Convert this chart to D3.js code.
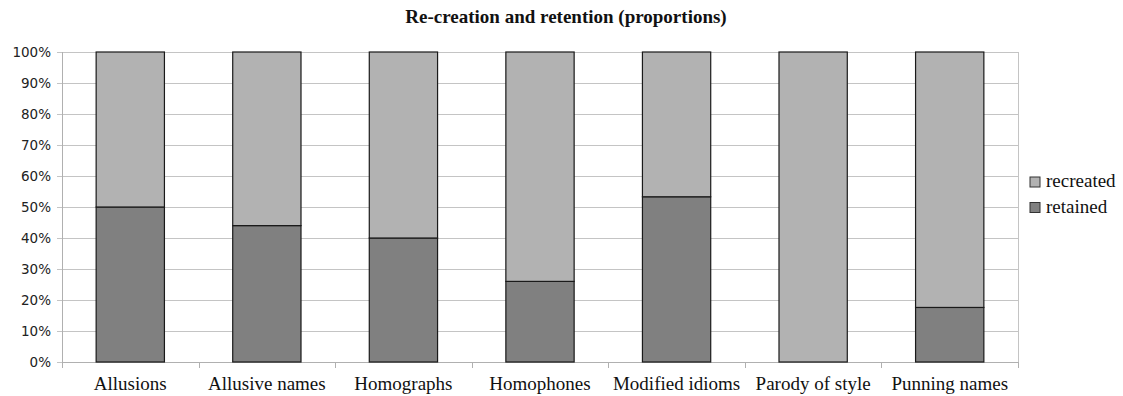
<!DOCTYPE html>
<html>
<head>
<meta charset="utf-8">
<script src="https://cdn.jsdelivr.net/npm/d3@7"></script>
<style>
  html, body { margin: 0; padding: 0; background: #fff; }
  svg { display: block; }
  .serif { font-family: "Liberation Serif", "Times New Roman", Times, serif; }
  .sans { font-family: "DejaVu Sans", Verdana, sans-serif; }
</style>
</head>
<body>
<svg id="chart" width="1123" height="396"></svg>
<script>
// Categories and stacked proportions (percent)
const categories = ["Allusions", "Allusive names", "Homographs", "Homophones", "Modified idioms", "Parody of style", "Punning names"];
const retained  = [50, 44, 40, 26, 53.3, 0, 17.6];
const recreated = [50, 56, 60, 74, 46.7, 100, 82.4];
const seriesKeys = ["retained", "recreated"];
const yTicks = [0, 10, 20, 30, 40, 50, 60, 70, 80, 90, 100];
const title = "Re-creation and retention (proportions)";

const colors = { recreated: "#b2b2b2", retained: "#808080" };

const svg = d3.select("#chart");
const plot = { left: 62, right: 1018, top: 52, bottom: 362 };

const rows = categories.map((c, i) => ({ category: c, retained: retained[i], recreated: recreated[i] }));
const stacked = d3.stack().keys(seriesKeys)(rows);

const x = d3.scaleBand()
  .domain(categories)
  .range([plot.left, plot.right])
  .paddingInner(0.5)
  .paddingOuter(0.25);

const y = d3.scaleLinear().domain([0, 100]).range([plot.bottom, plot.top]);

// Horizontal gridlines with short outward ticks
const yAxis = d3.axisLeft(y).tickValues(yTicks).tickFormat(d => d + "%")
  .tickSize(-(plot.right - plot.left)).tickSizeOuter(0).tickPadding(11);
const gy = svg.append("g").attr("transform", `translate(${plot.left},0)`).call(yAxis);
gy.select(".domain").remove();
gy.attr("font-family", null).attr("font-size", null);
gy.selectAll(".tick line").attr("stroke", "#c4c4c4").attr("x1", -5).attr("shape-rendering", "crispEdges");
gy.selectAll(".tick text")
  .attr("class", "sans").style("font-size", "13.5px").attr("fill", "#222");

// Plot frame: left axis, right edge and bottom axis
svg.append("line").attr("x1", plot.left).attr("x2", plot.left).attr("y1", plot.top).attr("y2", plot.bottom)
  .attr("stroke", "#b0b0b0").attr("shape-rendering", "crispEdges");
svg.append("line").attr("x1", plot.right).attr("x2", plot.right).attr("y1", plot.top).attr("y2", plot.bottom + 6)
  .attr("stroke", "#c4c4c4").attr("shape-rendering", "crispEdges");
svg.append("line").attr("x1", plot.left).attr("x2", plot.right).attr("y1", plot.bottom).attr("y2", plot.bottom)
  .attr("stroke", "#b0b0b0").attr("shape-rendering", "crispEdges");

// Category boundary ticks below the axis
const step = x.step();
const boundaries = d3.range(categories.length + 1).map(i => plot.left + i * step);
svg.append("g").selectAll("line").data(boundaries).join("line")
  .attr("x1", d => Math.round(d) + 0.5).attr("x2", d => Math.round(d) + 0.5)
  .attr("y1", plot.bottom).attr("y2", plot.bottom + 6)
  .attr("stroke", "#b0b0b0");

// Stacked bars
svg.append("g").selectAll("g").data(stacked).join("g")
  .attr("fill", d => colors[d.key])
  .selectAll("rect").data(d => d).join("rect")
  .attr("x", d => x(d.data.category))
  .attr("width", x.bandwidth())
  .attr("y", d => y(d[1]))
  .attr("height", d => y(d[0]) - y(d[1]))
  .attr("stroke", "#1a1a1a").attr("stroke-width", 1.2);

// Category labels
svg.append("g").selectAll("text").data(categories).join("text")
  .attr("class", "serif")
  .attr("x", d => x(d) + x.bandwidth() / 2)
  .attr("y", 390)
  .attr("text-anchor", "middle")
  .style("font-size", "19px").attr("fill", "#111")
  .text(d => d);

// Title
svg.append("text").attr("class", "serif")
  .attr("x", 566).attr("y", 23).attr("text-anchor", "middle")
  .style("font-weight", "bold").style("font-size", "19px").attr("fill", "#111")
  .text(title);

// Legend (recreated listed first)
const legendItems = ["recreated", "retained"];
const lg = svg.append("g").selectAll("g").data(legendItems).join("g")
  .attr("transform", (d, i) => `translate(1030,${177 + i * 25.5})`);
lg.append("rect").attr("width", 10).attr("height", 10)
  .attr("fill", d => colors[d]).attr("stroke", "#333").attr("stroke-width", 1);
lg.append("text").attr("class", "serif")
  .attr("x", 16).attr("y", 10)
  .style("font-size", "19px").attr("fill", "#111")
  .text(d => d);
</script>
</body>
</html>
